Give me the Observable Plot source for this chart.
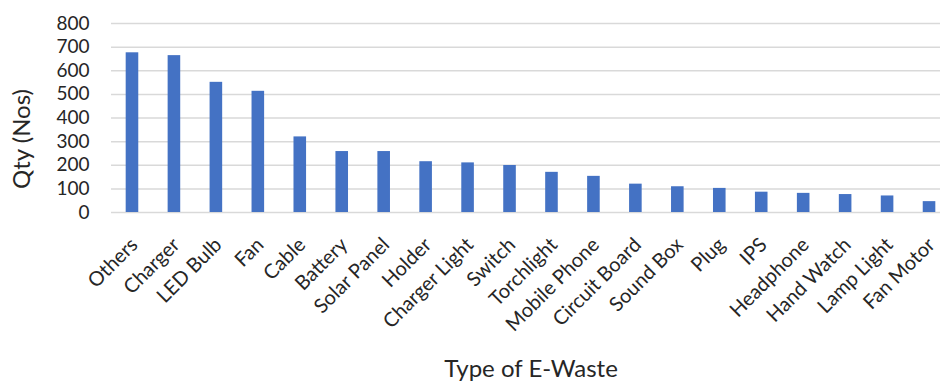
<!DOCTYPE html>
<html>
<head>
<meta charset="utf-8">
<script src="https://cdn.jsdelivr.net/npm/d3@7"></script>
<script src="https://cdn.jsdelivr.net/npm/@observablehq/plot@0.6"></script>
<style>
  html, body { margin: 0; padding: 0; background: #fff; }
  #chart svg { display: block; }
</style>
</head>
<body>
<div id="chart"></div>
<script>
const categories = ["Others", "Charger", "LED Bulb", "Fan", "Cable", "Battery", "Solar Panel", "Holder", "Charger Light", "Switch", "Torchlight", "Mobile Phone", "Circuit Board", "Sound Box", "Plug", "IPS", "Headphone", "Hand Watch", "Lamp Light", "Fan Motor"];
const values = [676, 664, 551, 513, 320, 258, 258, 215, 210, 199, 170, 153, 120, 109, 102, 86, 81, 76, 70, 46];
const yTicks = [0, 100, 200, 300, 400, 500, 600, 700, 800];
const xTitle = "Type of E-Waste";
const yTitle = "Qty (Nos)";

const data = categories.map((c, i) => ({category: c, qty: values[i]}));

const chart = Plot.plot({
  width: 940,
  height: 382,
  marginLeft: 111,
  marginRight: 0,
  marginTop: 23,
  marginBottom: 170,
  style: {fontFamily: "Lato, sans-serif", color: "#262626", background: "#fff"},
  x: {domain: categories, range: [111, 950], paddingInner: 0.7, paddingOuter: 0.35, round: false},
  y: {domain: [0, 800]},
  marks: [
    Plot.gridY(yTicks, {stroke: "#d9d9d9", strokeOpacity: 1, strokeWidth: 1.5}),
    Plot.barY(data, {x: "category", y: "qty", fill: "#4472c4"}),
    Plot.axisY({ticks: yTicks, tickSize: 0, tickPadding: 22, label: null, fontSize: 19}),
    Plot.axisX({tickSize: 0, tickRotate: -45, tickPadding: 29, dx: 2, label: null, fontSize: 20}),
    Plot.text([xTitle], {frameAnchor: "bottom", textAnchor: "middle", lineAnchor: "middle", dx: 5, dy: 157, fontSize: 24, fill: "#262626"}),
    Plot.text([yTitle], {frameAnchor: "left", textAnchor: "middle", lineAnchor: "middle", rotate: -90, dx: -89, dy: 21, fontSize: 24, fill: "#262626"})
  ]
});
document.getElementById("chart").append(chart);
</script>
</body>
</html>
